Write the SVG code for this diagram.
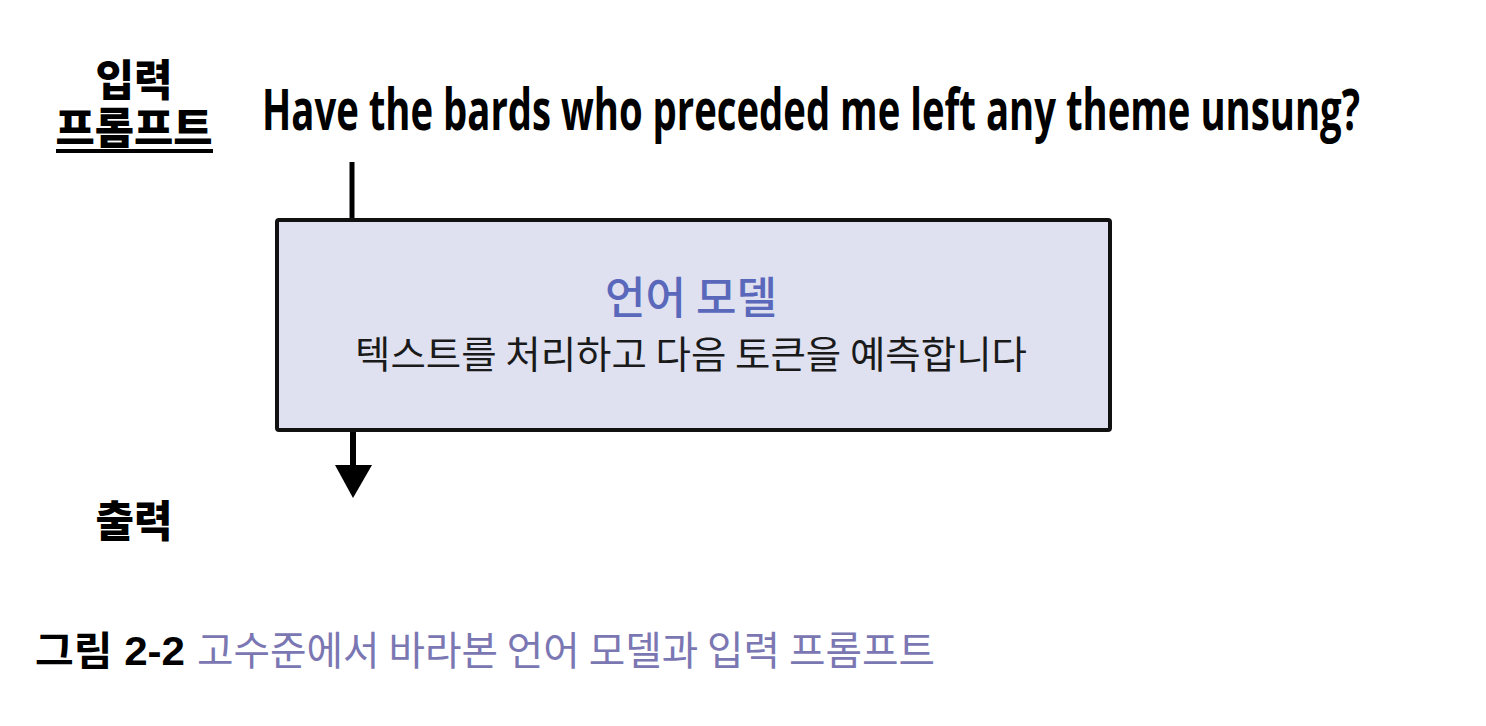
<svg xmlns="http://www.w3.org/2000/svg" width="1486" height="726" viewBox="0 0 1486 726">
<style>
.lbl{font-family:"Noto Sans CJK KR","Noto Sans",sans-serif;font-weight:900;font-size:43px;fill:#000;text-anchor:middle}
.prompt{font-family:"Open Sans","Noto Sans",sans-serif;font-weight:700;font-size:57px;fill:#000}
.title{font-family:"Noto Sans CJK KR",sans-serif;font-weight:500;font-size:44px;fill:#5a68bb;text-anchor:middle}
.sub{font-family:"Noto Sans CJK KR",sans-serif;font-weight:400;font-size:38px;fill:#1a1a1a}
.cap1{font-family:"Liberation Sans","Noto Sans CJK KR",sans-serif;font-weight:700;font-size:40px;fill:#000}
.cap2{font-family:"Noto Sans CJK KR",sans-serif;font-weight:400;font-size:40px;fill:#7b77b3}
</style>
<rect width="1486" height="726" fill="#fff"/>
<g id="label-input">
<text class="lbl"><tspan x="134" y="96" textLength="77" lengthAdjust="spacingAndGlyphs">입력</tspan><tspan x="134" y="144" textLength="157" lengthAdjust="spacingAndGlyphs">프롬프트</tspan></text>
<line x1="56" y1="151" x2="213" y2="151" stroke="#000" stroke-width="4"/>
</g>
<g id="prompt-text">
<text class="prompt" transform="scale(0.75,1)" x="349.3" y="130" textLength="1464" lengthAdjust="spacingAndGlyphs">Have the bards who preceded me left any theme unsung?</text>
</g>
<g id="connectors">
<line x1="352" y1="162" x2="352" y2="220" stroke="#000" stroke-width="5"/>
<line x1="353" y1="430" x2="353" y2="468" stroke="#000" stroke-width="6"/>
<polygon points="335,465 372,465 353,498" fill="#000"/>
</g>
<g id="language-model">
<rect x="277" y="220" width="833" height="210" fill="#dfe1f0" stroke="#111" stroke-width="4" rx="2"/>
<text class="title" x="691" y="314" textLength="172" lengthAdjust="spacingAndGlyphs">언어 모델</text>
<text class="sub" x="355" y="368" textLength="672" lengthAdjust="spacingAndGlyphs">텍스트를 처리하고 다음 토큰을 예측합니다</text>
</g>
<g id="label-output">
<text class="lbl" x="134" y="537" textLength="77" lengthAdjust="spacingAndGlyphs">출력</text>
</g>
<g id="caption">
<text x="35" y="665"><tspan class="cap1" textLength="150" lengthAdjust="spacingAndGlyphs">그림 2-2</tspan><tspan class="cap2" x="197" textLength="738" lengthAdjust="spacingAndGlyphs">고수준에서 바라본 언어 모델과 입력 프롬프트</tspan></text>
</g>
</svg>
